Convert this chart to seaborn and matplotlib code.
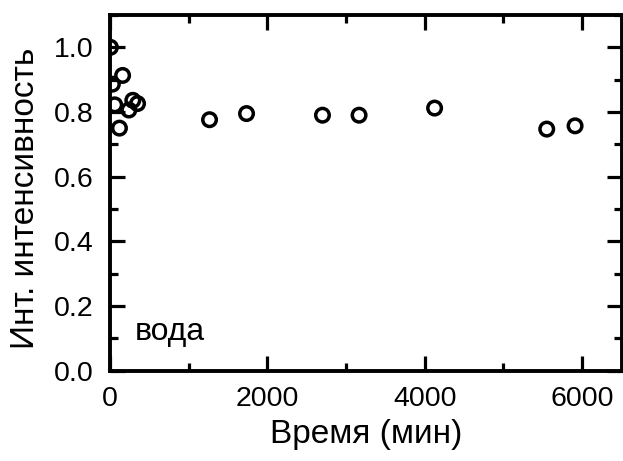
import matplotlib
matplotlib.use("Agg")
import matplotlib.pyplot as plt
from matplotlib.ticker import MultipleLocator
import seaborn as sns
import pandas as pd

time_min = [5, 30, 60, 120, 160, 240, 290, 350, 1265, 1735, 2700, 3165, 4125, 5550, 5910]
intensity = [1.0, 0.886, 0.822, 0.750, 0.913, 0.806, 0.836, 0.826, 0.776, 0.795, 0.790, 0.790, 0.812, 0.747, 0.757]
x_label = "Время (мин)"
y_label = "Инт. интенсивность"
annotation = "вода"

df = pd.DataFrame({"t": time_min, "I": intensity})

sns.set_style("ticks")
plt.rcParams["font.family"] = ["Liberation Sans", "DejaVu Sans"]

fig = plt.figure(figsize=(6.23, 4.61), dpi=100)
ax = fig.add_axes([110 / 623, 1 - 370.5 / 461, (621.5 - 110) / 623, (370.5 - 15) / 461])

sns.scatterplot(data=df, x="t", y="I", ax=ax, marker="o", s=95,
                facecolors="none", edgecolor="black", linewidth=2.5, legend=False)

ax.set_xlim(0, 6500)
ax.set_ylim(0, 1.1)
ax.xaxis.set_minor_locator(MultipleLocator(1000))
ax.yaxis.set_minor_locator(MultipleLocator(0.1))
ax.set_xticks([0, 2000, 4000, 6000])
ax.set_xticklabels(["0", "2000", "4000", "6000"])
ax.set_yticks([0.0, 0.2, 0.4, 0.6, 0.8, 1.0])
ax.set_yticklabels(["0.0", "0.2", "0.4", "0.6", "0.8", "1.0"])

ax.tick_params(which="both", direction="in", top=True, right=True, color="black",
               width=2.3, labelsize=20.5, labelcolor="black")
ax.tick_params(which="major", length=10.5)
ax.tick_params(which="minor", length=5.5)
ax.tick_params(axis="x", which="major", pad=11)
ax.tick_params(axis="y", which="major", pad=12)

for sp in ax.spines.values():
    sp.set_linewidth(2.8)
    sp.set_color("black")
    sp.set_visible(True)

ax.set_xlabel(x_label, fontsize=24, color="black", labelpad=5)
ax.set_ylabel(y_label, fontsize=24, color="black")
ax.yaxis.set_label_coords(-0.135, 0.485)

ax.text(0.049, 0.086, annotation, transform=ax.transAxes, fontsize=23, color="black",
        ha="left", va="baseline")

fig.savefig("out.png", dpi=100)
